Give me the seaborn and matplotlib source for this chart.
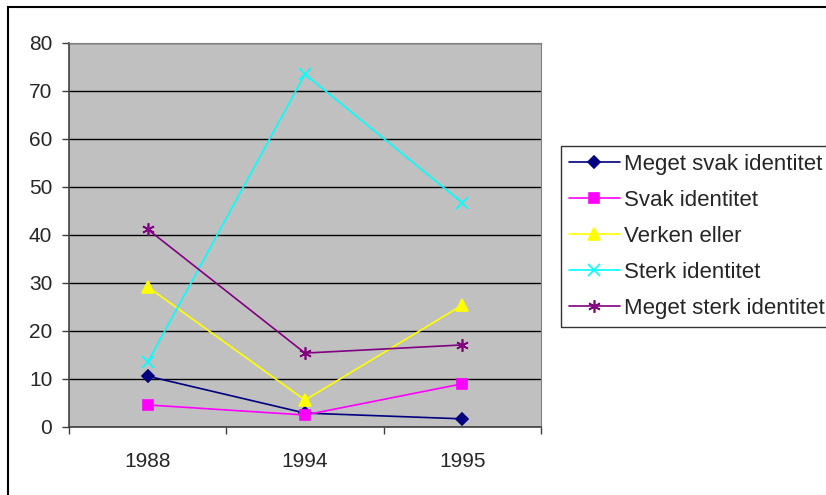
import numpy as np
import pandas as pd
import matplotlib
matplotlib.use('Agg')
import matplotlib.pyplot as plt
import matplotlib.patches as patches
from matplotlib.lines import Line2D
import seaborn as sns

years = ['1988', '1994', '1995']
series = ['Meget svak identitet', 'Svak identitet', 'Verken eller',
          'Sterk identitet', 'Meget sterk identitet']
meget_svak = [10.6, 2.9, 1.7]
svak = [4.6, 2.5, 9.0]
verken = [29.2, 5.6, 25.4]
sterk = [13.5, 73.5, 46.7]
meget_sterk = [41.2, 15.4, 17.1]

colors = ['#000080', '#FF00FF', '#FFFF00', '#00FFFF', '#800080']
marks = ['D', 's', '^', 'x', (6, 2, 0)]
msizes = [6.5, 7, 9, 8, 9]

rows = []
for name, vals in zip(series, [meget_svak, svak, verken, sterk, meget_sterk]):
    for i, v in enumerate(vals):
        rows.append({'pos': i, 'year': years[i], 'serie': name, 'value': v})
df = pd.DataFrame(rows)

sns.set_style('white')
plt.rcParams['font.family'] = ['Liberation Sans', 'DejaVu Sans']

fig = plt.figure(figsize=(8.26, 4.95), dpi=100)
ax = fig.add_axes([69/826, 1-427/495, (541-69)/826, (427-43)/495])
ax.set_facecolor('#C0C0C0')

handles = []
for name, c, m, ms in zip(series, colors, marks, msizes):
    sub = df[df['serie'] == name]
    sns.lineplot(data=sub, x='pos', y='value', color=c, marker=m, markersize=ms,
                 markeredgecolor=c, markerfacecolor=c, markeredgewidth=1.2,
                 linewidth=1.2, legend=False, ax=ax, zorder=3)
    handles.append(Line2D([], [], color=c, lw=1.2, marker=m,
                          ms=ms, mec=c, mfc=c, mew=1.2))

ax.set_ylim(0, 80)
ax.set_yticks(np.arange(0, 81, 10))
ax.set_xlim(-0.5, 2.5)
ax.set_xticks([-0.5, 0.5, 1.5, 2.5])
ax.set_xticklabels([])
ax.set_xticks([0, 1, 2], minor=True)
ax.set_xticklabels(years, minor=True)
ax.tick_params(axis='x', which='major', direction='out', length=5, width=1, color='#404040', bottom=True)
ax.tick_params(axis='x', which='minor', length=0, pad=18, labelsize=15)
ax.tick_params(axis='y', direction='out', length=5, width=1, color='#404040', left=True, pad=7, labelsize=15)
ax.grid(axis='y', color='black', linewidth=1)
ax.set_axisbelow(True)
ax.set_xlabel('')
ax.set_ylabel('')
for side in ['left', 'bottom']:
    ax.spines[side].set_color('#404040')
    ax.spines[side].set_linewidth(1.2)
for side in ['top', 'right']:
    ax.spines[side].set_color('#808080')
    ax.spines[side].set_linewidth(0.8)

leg = fig.legend(handles, series, loc='upper left', bbox_to_anchor=(561/826, 1-146/495),
                 fontsize=16, frameon=True, fancybox=False, shadow=False,
                 borderpad=0.35, borderaxespad=0, handlelength=2.3, handletextpad=0.2,
                 labelspacing=0.68)
leg.get_frame().set_edgecolor('black')
leg.get_frame().set_linewidth(1)

fig.add_artist(patches.Rectangle((8/826, -0.1), 1.2, 1-7/495+0.1, transform=fig.transFigure,
                                 fill=False, edgecolor='black', linewidth=1.5))

fig.savefig('out.png', dpi=100)
